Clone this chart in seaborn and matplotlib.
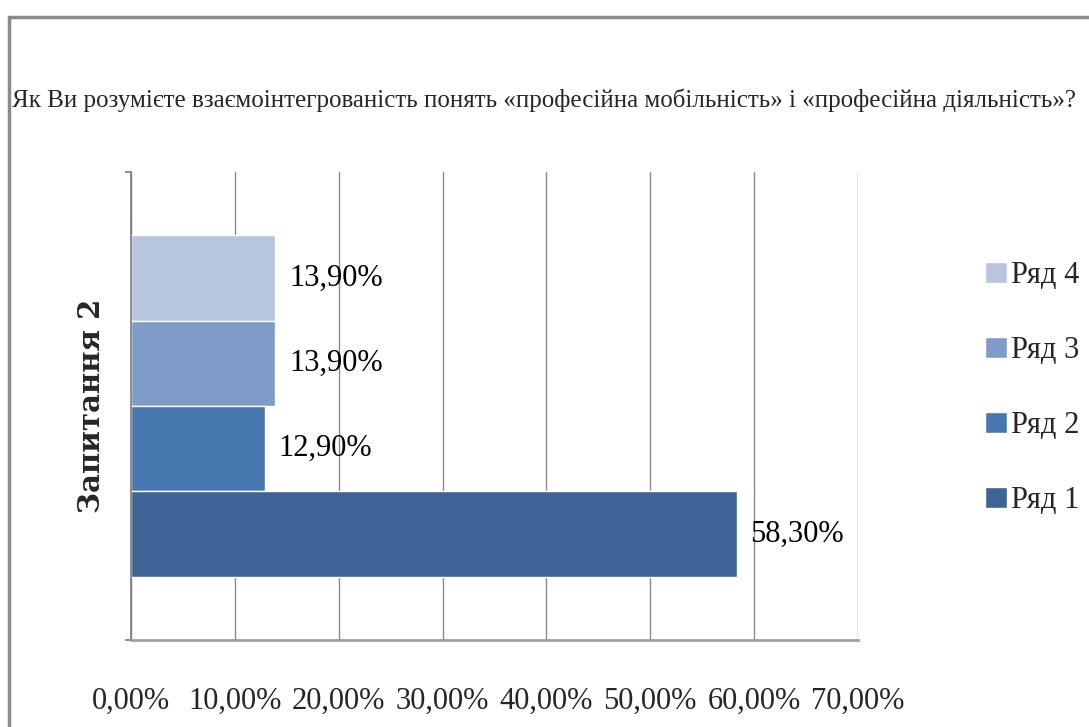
import pandas as pd
import numpy as np
import seaborn as sns
import matplotlib.pyplot as plt
from matplotlib.patches import Rectangle

# Дані діаграми
question = ['Запитання 2']
series = ['Ряд 4', 'Ряд 3', 'Ряд 2', 'Ряд 1']
values = [13.9, 13.9, 12.9, 58.3]
colors = ['#b7c5df', '#7f9cc8', '#4878b0', '#3d6495']
xticks = [0, 10, 20, 30, 40, 50, 60, 70]

df = pd.DataFrame({'question': question * len(series), 'series': series, 'value': values})

sns.set_style('white')
plt.rcParams['font.family'] = ['Liberation Serif', 'DejaVu Serif']

fig = plt.figure(figsize=(10.89, 7.27), dpi=100)
ax = fig.add_axes([0.1203, 0.1197, 0.6676, 0.6437])

sns.barplot(data=df, x='value', y='question', hue='series', hue_order=series,
            palette=colors, orient='h', width=0.73, saturation=1, ax=ax)

# Підписи значень
for cont, v in zip(ax.containers, values):
    ax.bar_label(cont, labels=[f'{v:.2f}%'.replace('.', ',')], padding=10,
                 fontsize=22, color='black')

ax.set_xlim(0, 70)
ax.set_ylim(0.5, -0.5)
ax.set_xticks(xticks)
ax.set_xticklabels([f'{t:.2f}%'.replace('.', ',') for t in xticks], fontsize=22)
ax.tick_params(axis='x', direction='out', length=12, color='#8a8a8a', width=1, pad=22)
ax.grid(axis='x', color='#8a8a8a', linewidth=1)
ax.set_axisbelow(True)

ax.set_yticks([])
ax.set_yticks([-0.5, 0.5], minor=True)
ax.tick_params(axis='y', which='minor', direction='out', length=4.5, color='#7a7a7a', width=1.2, left=True)

for s in ['top', 'right']:
    ax.spines[s].set_visible(False)
ax.spines['left'].set_color('#7a7a7a')
ax.spines['left'].set_linewidth(1.2)
ax.spines['bottom'].set_color('#a0a0a0')
ax.spines['bottom'].set_linewidth(2)

ax.set_xlabel('')
ax.set_ylabel('Запитання 2', fontsize=21, fontweight='bold', labelpad=10,
              family=['DejaVu Serif'])

leg = ax.legend(loc='upper left', bbox_to_anchor=(1.158, 0.835), frameon=False,
                fontsize=22, handlelength=0.7, handleheight=0.7, handletextpad=0.15,
                labelspacing=1.5, borderaxespad=0)

fig.text(0.011, 0.862, 'Як Ви розумієте взаємоінтегрованість понять «професійна мобільність» і «професійна діяльність»?',
         ha='left', va='center', fontsize=18)

# Рамка діаграми
fig.patches.append(Rectangle((0.008, -0.1), 1.2, 1.077, transform=fig.transFigure,
                             fill=False, edgecolor='#8a8a8a', linewidth=2.5))

plt.savefig('out.png', dpi=100)
